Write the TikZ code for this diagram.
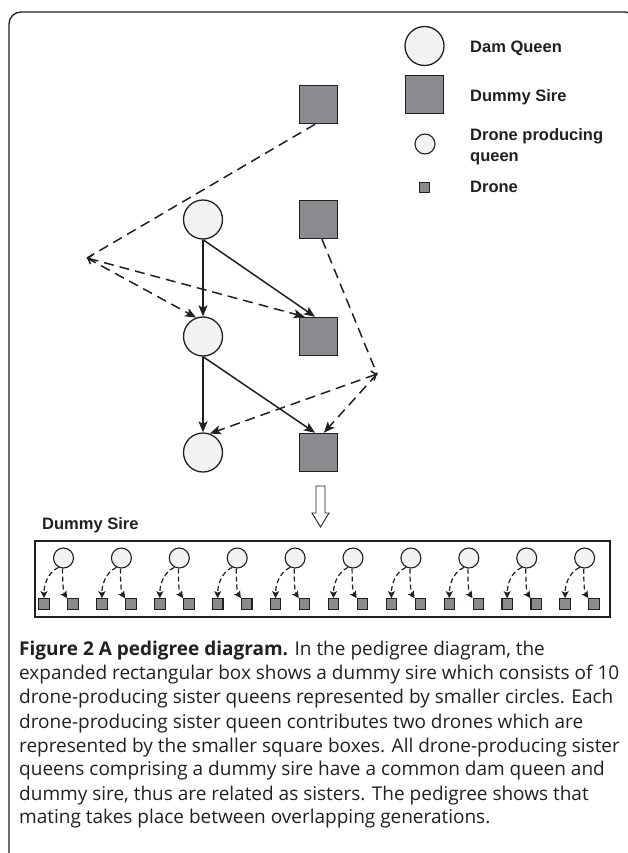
\documentclass[tikz,border=0pt]{standalone}
\usepackage{graphicx}
\usepackage{fontspec}
\setmainfont{Liberation Sans}
\newfontfamily\capfont{Open Sans}
\usetikzlibrary{arrows.meta,calc}
\definecolor{qfill}{HTML}{F1F2F4}
\definecolor{sfill}{HTML}{8A8B8E}
\definecolor{linec}{HTML}{231F20}
\newlength\capw
\newcommand\capline[1]{\scalebox{\capsx}[1]{#1}}
\begin{document}
\settowidth\capw{\capfont\fontsize{19}{24}\selectfont expanded rectangular box shows a dummy sire which consists of 10}%
\pgfmathsetmacro\capsx{600/\capw}%
\begin{tikzpicture}[x=1pt,y=-1pt,
  dam/.style={circle,draw=linec,fill=qfill,line width=1.3pt,minimum size=39pt,inner sep=0pt},
  sire/.style={rectangle,draw=linec,fill=sfill,line width=1.5pt,minimum size=38pt,inner sep=0pt},
  dpq/.style={circle,draw=linec,fill=qfill,line width=1.1pt,minimum size=20pt,inner sep=0pt},
  drone/.style={rectangle,draw=linec,fill=sfill,line width=1.1pt,minimum size=10.5pt,inner sep=0pt},
  lbl/.style={font=\fontsize{16.5}{21}\selectfont\bfseries,anchor=base west,inner sep=0pt,align=left,text=linec},
  captext/.style={font=\capfont\fontsize{19}{24}\selectfont,anchor=base west,inner sep=0pt,text=linec},
  solidarr/.style={line width=1.5pt,draw=linec,arrows={-Stealth[length=11pt,width=9pt,inset=2.5pt]}},
  dashline/.style={line width=1.5pt,draw=linec,dash pattern=on 10pt off 6pt},
  dasharr/.style={dashline,arrows={-Stealth[length=11pt,width=9pt,inset=2.5pt]}},
  dasharrb/.style={dashline,arrows={Straight Barb[length=4pt,width=10pt]-Stealth[length=11pt,width=9pt,inset=2.5pt]}},
  smallarr/.style={line width=1.2pt,draw=linec,dash pattern=on 5pt off 3pt,arrows={-Stealth[length=7pt,width=7pt,inset=1.5pt]}}
]
% outer frame
\draw[line width=1.3pt,linec,rounded corners=12pt] (9,880) -- (9,12) -- (637,12) -- (637,880);

% legend
\node[dam] (lq) at (424.5,46) {};
\node[lbl] (lqt) at (470,53) {Dam Queen};
\node[sire] (ls) at (424.5,94.5) {};
\node[lbl] (lst) at (470,102) {Dummy Sire};
\node[dpq] (ld) at (425,144) {};
\node[lbl] (ldt) at (470,162) {Drone producing\\queen};
\node[drone] (ldr) at (424.5,187.5) {};
\node[lbl] (ldrt) at (470,193) {Drone};

% pedigree
\node[sire] (s1) at (318.5,104.5) {};
\node[dam] (q1) at (203,219.5) {};
\node[sire] (s2) at (318.5,219.5) {};
\node[dam] (q2) at (203,336.5) {};
\node[sire] (s3) at (318.5,336.5) {};
\node[dam] (q3) at (203,452.5) {};
\node[sire] (s4) at (318.5,452.5) {};
\coordinate (al) at (87,258);
\coordinate (ar) at (377,374);

\draw[solidarr] (q1.south) -- (q2.north);
\draw[solidarr] (q1.south) -- (s3.100);
\draw[solidarr] (q2.south) -- (q3.north);
\draw[solidarr] (q2.south) -- (s4.100);
\draw[dashline] (s1.-100) -- (al);
\draw[dasharr] (al) -- (q2.110);
\draw[dasharrb] (al) -- (s3.125);
\draw[dashline] (s2.-80) -- (ar);
\draw[dasharrb] (ar) -- (q3.70);
\draw[dasharr] (ar) -- (s4.75);

% expansion arrow
\draw[line width=0.9pt,linec,fill=white] (316,486) -- (325,486) -- (325,513) -- (329,513) -- (320.5,527) -- (312,513) -- (316,513) -- cycle;

% dummy sire box
\node[lbl] (dst) at (42,529) {Dummy Sire};
\node[draw=linec,line width=1.3pt,minimum width=575pt,minimum height=76pt,inner sep=0pt] (box) at (322.5,579) {};
\foreach \i in {0,...,9}{
  \pgfmathsetmacro\cx{63.5+57.9*\i}
  \node[dpq] (c\i) at (\cx,558) {};
  \node[drone] (dl\i) at (\cx-19.5,604) {};
  \node[drone] (dr\i) at (\cx+9.5,604) {};
  \draw[smallarr] (c\i.-118) .. controls +(-12,6) and +(0,-12) .. (dl\i.north);
  \draw[smallarr] (c\i.-95) .. controls +(0,13) and +(-4,-6) .. (dr\i.north west);
}

% caption
\node[captext] (cap1) at (19,655) {\capline{\textbf{Figure 2 A pedigree diagram.} In the pedigree diagram, the}};
\node[captext] (cap2) at (19,679) {\capline{expanded rectangular box shows a dummy sire which consists of 10}};
\node[captext] (cap3) at (19,703) {\capline{drone-producing sister queens represented by smaller circles. Each}};
\node[captext] (cap4) at (19,728) {\capline{drone-producing sister queen contributes two drones which are}};
\node[captext] (cap5) at (19,752) {\capline{represented by the smaller square boxes. All drone-producing sister}};
\node[captext] (cap6) at (19,775) {\capline{queens comprising a dummy sire have a common dam queen and}};
\node[captext] (cap7) at (19,800) {\capline{dummy sire, thus are related as sisters. The pedigree shows that}};
\node[captext] (cap8) at (19,823) {\capline{mating takes place between overlapping generations.}};

\pgfresetboundingbox
\useasboundingbox (0,0) rectangle (627,853);
\end{tikzpicture}
\end{document}
